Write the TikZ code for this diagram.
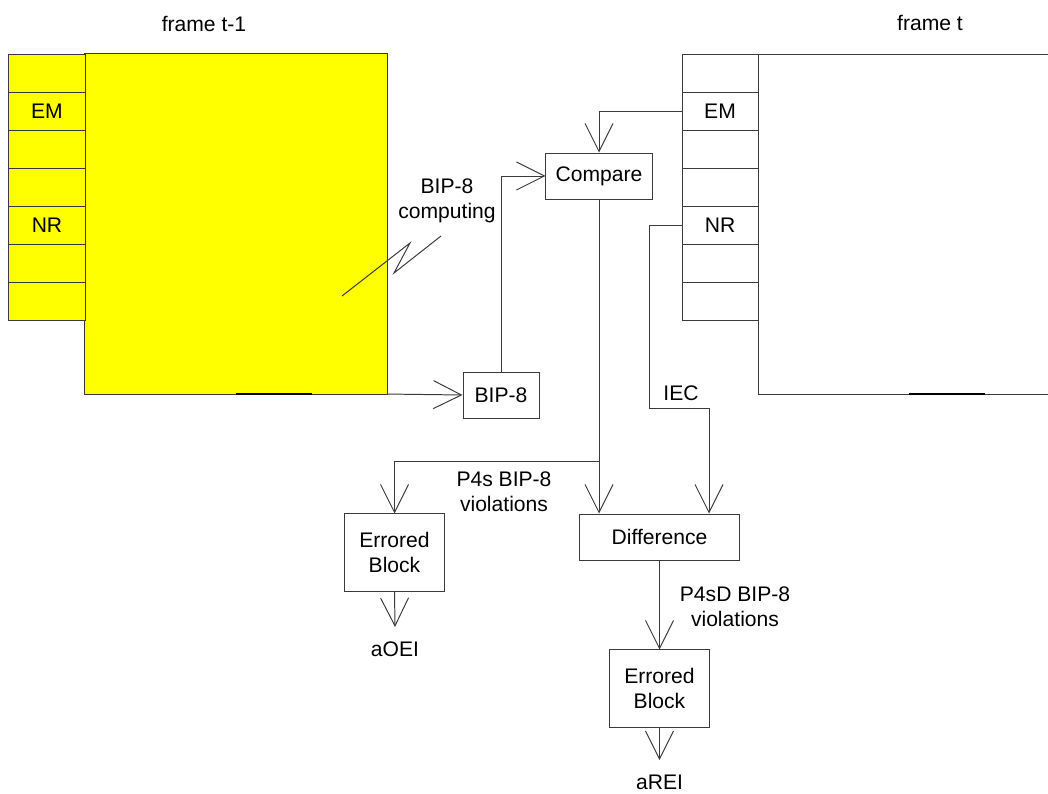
\documentclass[tikz,border=0pt]{standalone}
\usepackage{fontspec}
\setmainfont{Liberation Sans}
\usetikzlibrary{positioning,arrows.meta}
\definecolor{FrameYellow}{HTML}{FFFF00}
\definecolor{LineGray}{HTML}{3A3A3A}

\begin{document}
\begin{tikzpicture}[x=0.025cm,y=-0.025cm,line width=0.7pt,
    font=\fontsize{15}{18}\selectfont,
    cell/.style={draw=LineGray,outer sep=0pt,inner sep=0pt,
      minimum width=1.9cm,minimum height=0.95cm},
    block/.style={draw=LineGray,align=center,inner sep=2pt,
      minimum height=1.15cm},
    errblock/.style={block,minimum width=2.475cm,minimum height=1.925cm},
    outsig/.style={inner sep=10pt},
    arrow/.style={-{Straight Barb[length=0.7cm,width=0.7cm]},draw=LineGray}
  ]
    \useasboundingbox (0,0) rectangle (1048,794);
    % frame t-1
    \node[draw=LineGray,fill=FrameYellow,outer sep=0pt,minimum width=7.55cm,
      minimum height=8.5cm] (lmain) at (236,224) {};
    \node[cell,fill=FrameYellow] (l1) at (47,73) {};
    \node[cell,fill=FrameYellow,below=0pt of l1] (l2) {EM};
    \node[cell,fill=FrameYellow,below=0pt of l2] (l3) {};
    \node[cell,fill=FrameYellow,below=0pt of l3] (l4) {};
    \node[cell,fill=FrameYellow,below=0pt of l4] (l5) {NR};
    \node[cell,fill=FrameYellow,below=0pt of l5] (l6) {};
    \node[cell,fill=FrameYellow,below=0pt of l6] (l7) {};
    \draw[line width=2pt] (236,394) -- (312,394);
    \node (ft1) at (204,24) {frame t-1};
    % frame t
    \draw[LineGray] (682,54) -- (1048,54);
    \draw[LineGray] (758,54) -- (758,394) -- (1048,394);
    \node[cell] (r1) at (720,73) {};
    \node[cell,below=0pt of r1] (r2) {EM};
    \node[cell,below=0pt of r2] (r3) {};
    \node[cell,below=0pt of r3] (r4) {};
    \node[cell,below=0pt of r4] (r5) {NR};
    \node[cell,below=0pt of r5] (r6) {};
    \node[cell,below=0pt of r6] (r7) {};
    \draw[line width=2pt] (909,394) -- (985,394);
    \node (ft) at (930,23) {frame t};
    % blocks
    \node[block,minimum width=1.9cm] (bip) at (501,395) {BIP-8};
    \node[block,minimum width=2.65cm] (cmp) at (599,176) {Compare};
    \node[block,minimum width=3.975cm] (dif) at (659.5,537) {Difference};
    \node[errblock] (eb1) at (394.5,552.5) {Errored\\Block};
    \node[errblock] (eb2) at (659.5,688.5) {Errored\\Block};
    \node[outsig] (aoei) at (395,649) {aOEI};
    \node[outsig] (arei) at (659.5,782) {aREI};
    % labels
    \node[align=center] (bipc) at (447,201) {BIP-8\\computing};
    \node (iec) at (681,393) {IEC};
    \node[align=center] (p4s) at (504,492) {P4s BIP-8\\violations};
    \node[align=center] (p4sd) at (735,607) {P4sD BIP-8\\violations};
    \draw[LineGray] (342,296) -- (410,243) -- (394,273) -- (441,236);
    % connectors
    \coordinate (split) at (599,461);
    \coordinate (iecbend) at (649,408);
    \coordinate (iecin) at (709,408);
    \draw[arrow] (lmain.south east) -- (bip.west);
    \draw[arrow] (bip.north) |- (cmp.west);
    \draw[arrow] (r2.west) -| (cmp.north);
    \draw[arrow] (cmp.south) -- (cmp.south |- dif.north);
    \draw[arrow] (split) -| (eb1.north);
    \draw[arrow] (r5.west) -| (iecbend) -| (iecin |- dif.north);
    \draw[arrow] (dif.south) -- (eb2.north);
    \draw[arrow] (eb1.south) -- (aoei.north);
    \draw[arrow] (eb2.south) -- (arei.north);
\end{tikzpicture}
\end{document}
